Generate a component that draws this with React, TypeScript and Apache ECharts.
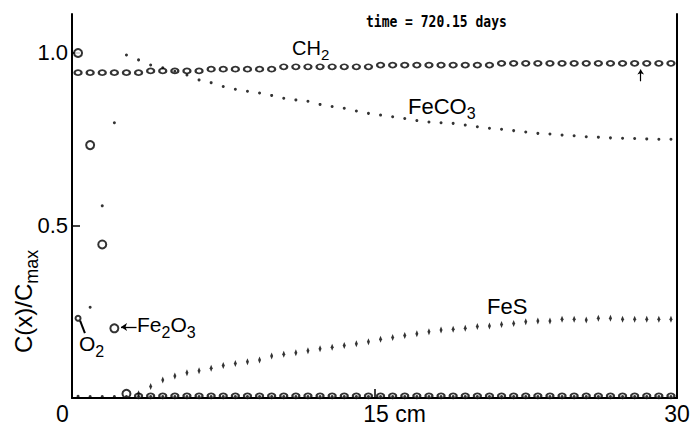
import React, { useEffect, useRef } from "react";
import * as echarts from "echarts";

// depth positions of the model grid (cm)
const depthCm = [
  0.3, 0.9, 1.5, 2.1, 2.7, 3.3, 3.9, 4.5, 5.1, 5.7,
  6.3, 6.9, 7.5, 8.1, 8.7, 9.3, 9.9, 10.5, 11.1, 11.7,
  12.3, 12.9, 13.5, 14.1, 14.7, 15.3, 15.9, 16.5, 17.1, 17.7,
  18.3, 18.9, 19.5, 20.1, 20.7, 21.3, 21.9, 22.5, 23.1, 23.7,
  24.3, 24.9, 25.5, 26.1, 26.7, 27.3, 27.9, 28.5, 29.1, 29.7,
];

const ch2 = [
  0.943, 0.943, 0.943, 0.943, 0.943, 0.943, 0.948, 0.948, 0.948, 0.948,
  0.948, 0.953, 0.953, 0.953, 0.953, 0.953, 0.953, 0.96, 0.96, 0.96,
  0.96, 0.96, 0.96, 0.96, 0.96, 0.965, 0.965, 0.965, 0.965, 0.965,
  0.965, 0.965, 0.965, 0.965, 0.965, 0.97, 0.97, 0.97, 0.97, 0.97,
  0.97, 0.97, 0.97, 0.97, 0.97, 0.97, 0.97, 0.97, 0.97, 0.97,
];

const feco3 = [
  0.005, 0.263, 0.557, 0.798, 0.994, 0.98, 0.965, 0.957, 0.947, 0.936,
  0.922, 0.914, 0.903, 0.895, 0.889, 0.884, 0.877, 0.869, 0.864, 0.86,
  0.851, 0.845, 0.84, 0.832, 0.825, 0.82, 0.815, 0.81, 0.804, 0.8,
  0.798, 0.796, 0.791, 0.786, 0.782, 0.779, 0.775, 0.771, 0.767, 0.765,
  0.762, 0.76, 0.757, 0.756, 0.754, 0.753, 0.752, 0.751, 0.75, 0.75,
];

const fes: (number | string)[] = [
  "-", "-", "-", "-", "-", 0.012, 0.033, 0.052, 0.064, 0.073,
  0.079, 0.086, 0.094, 0.1, 0.105, 0.11, 0.122, 0.127, 0.131, 0.137,
  0.143, 0.147, 0.152, 0.157, 0.163, 0.17, 0.175, 0.181, 0.186, 0.192,
  0.197, 0.199, 0.202, 0.207, 0.209, 0.213, 0.216, 0.221, 0.223, 0.223,
  0.228, 0.228, 0.226, 0.231, 0.231, 0.228, 0.228, 0.228, 0.228, 0.228,
];

const fe2o3 = [
  1.0, 0.733, 0.445, 0.202, 0.012, 0.006, 0.006, 0.006, 0.006, 0.006,
  0.006, 0.006, 0.006, 0.006, 0.006, 0.006, 0.006, 0.006, 0.006, 0.006,
  0.006, 0.006, 0.006, 0.006, 0.006, 0.006, 0.006, 0.006, 0.006, 0.006,
  0.006, 0.006, 0.006, 0.006, 0.006, 0.006, 0.006, 0.006, 0.006, 0.006,
  0.006, 0.006, 0.006, 0.006, 0.006, 0.006, 0.006, 0.006, 0.006, 0.006,
];

const o2 = [
  0.231, 0.004, 0.004, 0.004, 0.004, 0.004, 0.004, 0.004, 0.004, 0.004,
  0.004, 0.004, 0.004, 0.004, 0.004, 0.004, 0.004, 0.004, 0.004, 0.004,
  0.004, 0.004, 0.004, 0.004, 0.004, 0.004, 0.004, 0.004, 0.004, 0.004,
  0.004, 0.004, 0.004, 0.004, 0.004, 0.004, 0.004, 0.004, 0.004, 0.004,
  0.004, 0.004, 0.004, 0.004, 0.004, 0.004, 0.004, 0.004, 0.004, 0.004,
];

const xTickValues = [0, 15, 30];
const xTickLabels = ["0", "15 cm", "30"];
const yTickValues = [0.5, 1.0];
const yTickLabels = ["0.5", "1.0"];
const timeLabel = "time = 720.15 days";

const FONT = '"Liberation Sans", Arial, Helvetica, sans-serif';

let measureCtx: CanvasRenderingContext2D | null = null;
function measure(text: string, size: number): number {
  if (!measureCtx) {
    const c = document.createElement("canvas");
    measureCtx = c.getContext("2d");
  }
  if (!measureCtx) return text.length * size * 0.6;
  measureCtx.font = `${size}px ${FONT}`;
  return measureCtx.measureText(text).width;
}

function chem(x: number, y: number, parts: [string, boolean][], size: number) {
  const els: any[] = [];
  let cx = x;
  for (const [t, isSub] of parts) {
    const fs = isSub ? Math.round(size * 0.74) : size;
    els.push({
      type: "text",
      x: cx,
      y: isSub ? y + size * 0.36 : y,
      silent: true,
      z: 100,
      style: {
        text: t,
        fontSize: fs,
        fontFamily: FONT,
        fill: "#000",
        align: "left",
        verticalAlign: "middle",
      },
    });
    cx += measure(t, fs);
  }
  return els;
}

export default function App() {
  const ref = useRef<HTMLDivElement>(null);

  useEffect(() => {
    if (!ref.current) return;
    const chart = echarts.init(ref.current, null, { renderer: "svg" });
    const pair = (ys: (number | string)[]) => depthCm.map((x, i) => [x, ys[i]]);

    const xLabelRich = {
      z: { fontSize: 23, fontFamily: FONT, color: "#000", padding: [0, 19, 0, 0] },
      m: { fontSize: 23, fontFamily: FONT, color: "#000", padding: [0, 0, 0, 40] },
      e: { fontSize: 23, fontFamily: FONT, color: "#000" },
    };
    const xKeys = ["z", "m", "e"];

    chart.setOption({
      animation: false,
      backgroundColor: "#fff",
      grid: { left: 72, right: 17, top: 14, bottom: 30, containLabel: false },
      xAxis: {
        type: "value",
        min: 0,
        max: 30,
        interval: 15,
        axisLine: { show: true, onZero: false, lineStyle: { color: "#000", width: 2 } },
        axisTick: {
          show: true,
          inside: true,
          length: 9,
          customValues: xTickValues,
          lineStyle: { color: "#000", width: 1.5 },
        },
        splitLine: { show: false },
        axisLabel: {
          show: true,
          margin: 4,
          customValues: xTickValues,
          formatter: (v: number) => {
            const i = xTickValues.indexOf(v);
            return i < 0 ? "" : `{${xKeys[i]}|${xTickLabels[i]}}`;
          },
          rich: xLabelRich,
        },
      },
      yAxis: [
        {
          type: "value",
          min: 0,
          max: 1.113,
          interval: 0.5,
          axisLine: { show: true, onZero: false, lineStyle: { color: "#000", width: 2 } },
          axisTick: {
            show: true,
            inside: true,
            length: 8,
            customValues: yTickValues,
            lineStyle: { color: "#000", width: 1.5 },
          },
          splitLine: { show: false },
          axisLabel: {
            show: true,
            margin: 4,
            customValues: yTickValues,
            fontSize: 22,
            fontFamily: FONT,
            color: "#000",
            formatter: (v: number) => {
              const i = yTickValues.findIndex((t) => Math.abs(t - v) < 1e-6);
              return i < 0 ? "" : yTickLabels[i];
            },
          },
        },
        {
          type: "value",
          position: "right",
          min: 0,
          max: 1.113,
          axisLine: { show: true, onZero: false, lineStyle: { color: "#000", width: 2 } },
          axisTick: { show: false },
          axisLabel: { show: false },
          splitLine: { show: false },
        },
      ],
      series: [
        {
          name: "CH2",
          type: "scatter",
          data: pair(ch2),
          symbol: "emptyCircle",
          symbolSize: [7, 5],
          itemStyle: { color: "#000", borderWidth: 1.3 },
          silent: true,
          z: 2,
          markLine: {
            silent: true,
            symbol: ["none", "arrow"],
            symbolSize: 5,
            label: { show: false },
            lineStyle: { color: "#000", width: 1.2, type: "solid" },
            data: [[{ coord: [28.2, 0.918] }, { coord: [28.2, 0.952] }]],
          },
        },
        {
          name: "Fe2O3",
          type: "scatter",
          data: pair(fe2o3),
          symbol: "emptyCircle",
          symbolSize: (v: number[]) => (v[1] > 0.01 ? 8 : [7, 5]),
          itemStyle: { color: "#000", borderWidth: 1.4 },
          silent: true,
          z: 2,
          markLine: {
            silent: true,
            symbol: ["none", "arrow"],
            symbolSize: 6,
            label: { show: false },
            lineStyle: { color: "#000", width: 1.3, type: "solid" },
            data: [[{ coord: [3.2, 0.206] }, { coord: [2.43, 0.206] }]],
          },
        },
        {
          name: "O2",
          type: "scatter",
          data: pair(o2),
          symbol: (v: number[]) => (v[1] > 0.1 ? "emptyCircle" : "circle"),
          symbolSize: (v: number[]) => (v[1] > 0.1 ? 5 : 3),
          itemStyle: { color: "#000", borderWidth: 1.2 },
          silent: true,
          z: 3,
          markLine: {
            silent: true,
            symbol: ["none", "none"],
            label: { show: false },
            lineStyle: { color: "#000", width: 2, type: "solid" },
            data: [[{ coord: [0.4, 0.224] }, { coord: [0.64, 0.188] }]],
          },
        },
        {
          name: "FeCO3",
          type: "scatter",
          data: pair(feco3),
          symbol: "circle",
          symbolSize: 3,
          itemStyle: { color: "#000" },
          silent: true,
          z: 4,
        },
        {
          name: "FeS",
          type: "scatter",
          data: pair(fes),
          symbol: "diamond",
          symbolSize: [3, 7],
          itemStyle: { color: "#000" },
          silent: true,
          z: 4,
        },
      ],
      graphic: [
        {
          type: "text",
          x: 366,
          y: 21,
          scaleY: 1.25,
          silent: true,
          style: {
            text: timeLabel,
            fontFamily: '"DejaVu Sans Mono", monospace',
            fontWeight: "bold",
            fontSize: 13,
            fill: "#000",
            align: "left",
            verticalAlign: "middle",
          },
        },
        {
          type: "group",
          x: 23,
          y: 353,
          rotation: Math.PI / 2,
          silent: true,
          children: chem(0, 0, [["C(x)/C", false], ["max", true]], 24),
        },
        ...chem(292, 47.5, [["CH", false], ["2", true]], 20),
        ...chem(408, 106, [["FeCO", false], ["3", true]], 22),
        ...chem(487, 306.5, [["FeS", false]], 22),
        ...chem(79, 343.5, [["O", false], ["2", true]], 21),
        ...chem(137, 324.5, [["Fe", false], ["2", true], ["O", false], ["3", true]], 21),
      ],
    });

    return () => chart.dispose();
  }, []);

  return (
    <div
      ref={ref}
      style={{ position: "fixed", left: 0, top: 0, width: 694, height: 428, background: "#fff" }}
    />
  );
}
